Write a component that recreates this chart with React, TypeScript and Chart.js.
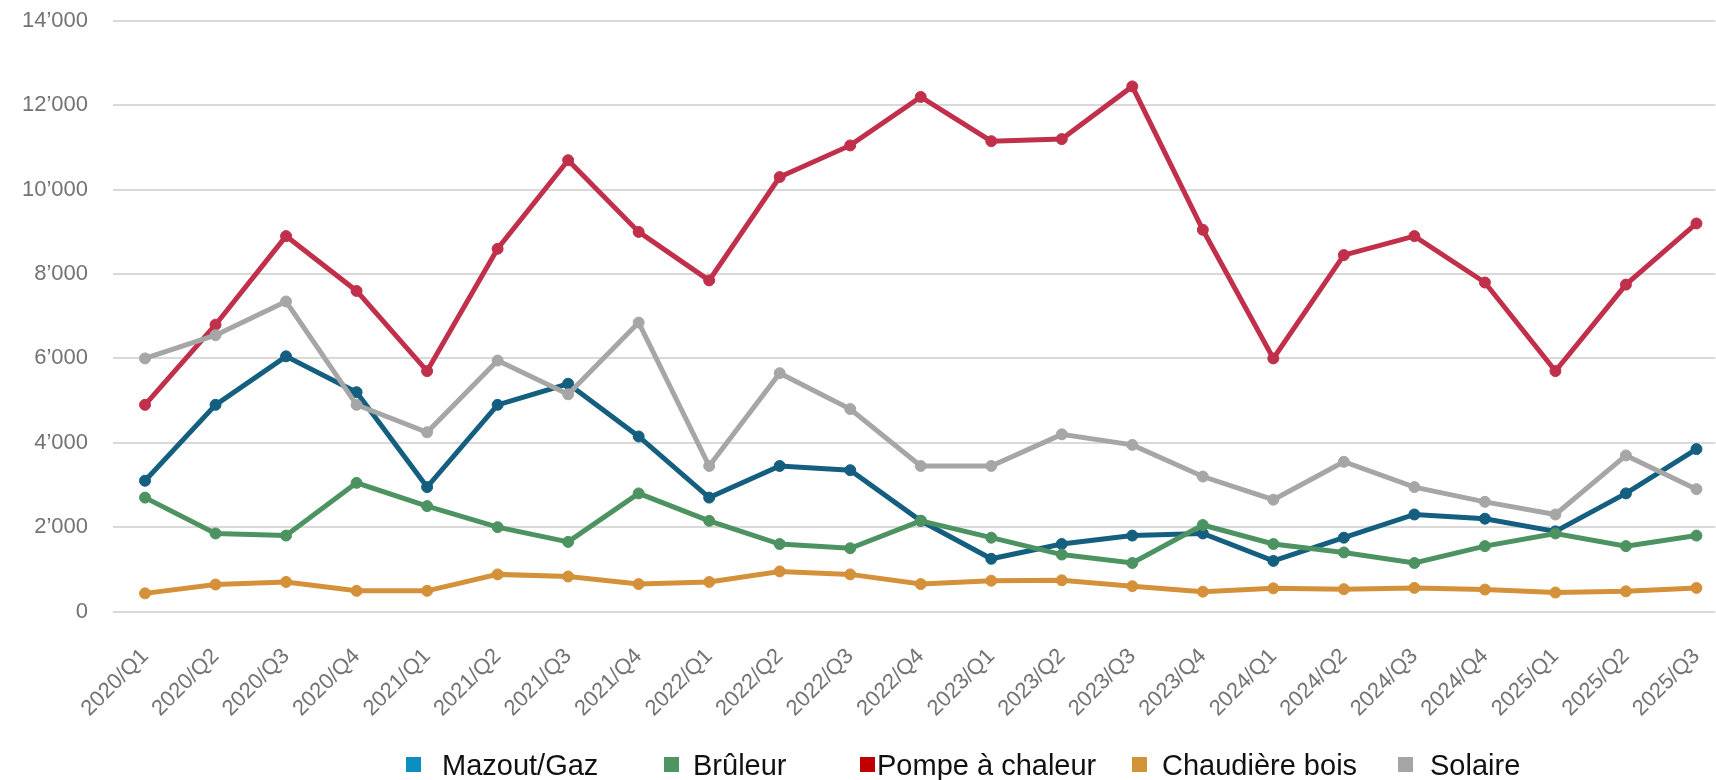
import React, { useEffect, useRef } from "react";
import { Chart, registerables } from "chart.js";

Chart.register(...registerables);

const categories = [
  "2020/Q1", "2020/Q2", "2020/Q3", "2020/Q4",
  "2021/Q1", "2021/Q2", "2021/Q3", "2021/Q4",
  "2022/Q1", "2022/Q2", "2022/Q3", "2022/Q4",
  "2023/Q1", "2023/Q2", "2023/Q3", "2023/Q4",
  "2024/Q1", "2024/Q2", "2024/Q3", "2024/Q4",
  "2025/Q1", "2025/Q2", "2025/Q3",
];

const mazout = [3100, 4900, 6050, 5200, 2950, 4900, 5400, 4150, 2700, 3450, 3350, 2150, 1250, 1600, 1800, 1850, 1200, 1750, 2300, 2200, 1900, 2800, 3850];
const bruleur = [2700, 1850, 1800, 3050, 2500, 2000, 1650, 2800, 2150, 1600, 1500, 2150, 1750, 1350, 1150, 2050, 1600, 1400, 1150, 1550, 1850, 1550, 1800];
const pompe = [4900, 6800, 8900, 7600, 5700, 8600, 10700, 9000, 7850, 10300, 11050, 12200, 11150, 11200, 12450, 9050, 6000, 8450, 8900, 7800, 5700, 7750, 9200];
const chaudiere = [430, 640, 700, 490, 490, 880, 830, 650, 700, 950, 880, 650, 730, 740, 600, 470, 550, 530, 560, 520, 450, 480, 560];
const solaire = [6000, 6550, 7350, 4900, 4250, 5950, 5150, 6850, 3450, 5650, 4800, 3450, 3450, 4200, 3950, 3200, 2650, 3550, 2950, 2600, 2300, 3700, 2900];

const seriesNames = ["Mazout/Gaz", "Brûleur", "Pompe à chaleur", "Chaudière bois", "Solaire"];
const seriesValues = [mazout, bruleur, pompe, chaudiere, solaire];
const lineColors = ["#145F7F", "#4C9361", "#C0304A", "#D4913A", "#A6A6A6"];
const legendColors = ["#0A8FC0", "#4E9562", "#C00000", "#D39237", "#A5A5A5"];
const drawOrder = [4, 3, 2, 1, 0];

const yTicks = [0, 2000, 4000, 6000, 8000, 10000, 12000, 14000];

const FONT = "'Liberation Sans', Arial, sans-serif";

const fmt = (v: number) => String(v).replace(/\B(?=(\d{3})+(?!\d))/g, "\u2019");

const legendLayout = {
  boxX: [406, 664, 860, 1132, 1398],
  textX: [442, 693, 877, 1162, 1430],
  boxY: 757,
  box: 15,
  baseline: 775,
  fontSize: 29,
};

const customLegend = {
  id: "customLegend",
  afterDraw(chart: any) {
    const ctx = chart.ctx;
    ctx.save();
    ctx.font = `${legendLayout.fontSize}px ${FONT}`;
    ctx.textAlign = "left";
    ctx.textBaseline = "alphabetic";
    chart.data.datasets.forEach((ds: any, i: number) => {
      ctx.fillStyle = ds.legendColor;
      ctx.fillRect(legendLayout.boxX[i], legendLayout.boxY, legendLayout.box, legendLayout.box);
      ctx.fillStyle = "#111111";
      ctx.fillText(ds.label, legendLayout.textX[i], legendLayout.baseline);
    });
    ctx.restore();
  },
};

export default function App() {
  const canvasRef = useRef<HTMLCanvasElement | null>(null);

  useEffect(() => {
    document.body.style.margin = "0";
    document.body.style.overflow = "hidden";
    const canvas = canvasRef.current;
    if (!canvas) return;

    const datasets = seriesNames.map((name, s) => ({
      label: name,
      legendColor: legendColors[s],
      data: seriesValues[s].map((v, i) => ({ x: i, y: v })),
      borderColor: lineColors[s],
      backgroundColor: lineColors[s],
      pointBackgroundColor: lineColors[s],
      pointBorderColor: lineColors[s],
      borderWidth: 5,
      pointRadius: 5.5,
      pointBorderWidth: 1,
      tension: 0,
      order: drawOrder[s],
    }));

    const chart = new Chart(canvas, {
      type: "line",
      data: { datasets } as any,
      plugins: [customLegend],
      options: {
        responsive: false,
        animation: false,
        devicePixelRatio: 1,
        layout: { padding: { top: 21, left: 0, right: 0, bottom: 0 } },
        plugins: {
          legend: { display: false },
          tooltip: { enabled: false },
        },
        scales: {
          x: {
            type: "linear",
            min: -0.454,
            max: 22.27,
            grid: { display: false, drawTicks: false },
            border: { display: false },
            afterBuildTicks: (scale: any) => {
              scale.ticks = categories.map((_, i) => ({ value: i }));
            },
            afterFit: (scale: any) => {
              scale.paddingLeft = 0;
              scale.paddingRight = 0;
              scale.height = 168.5;
            },
            ticks: {
              autoSkip: false,
              minRotation: 45,
              maxRotation: 45,
              padding: 32,
              color: "#737373",
              font: { family: FONT, size: 22 },
              callback: (v: any) => categories[v as number] ?? "",
            },
          },
          y: {
            min: 0,
            max: 14000,
            grid: { color: "#D9D9D9", lineWidth: 2, drawTicks: false },
            border: { display: false },
            afterBuildTicks: (scale: any) => {
              scale.ticks = yTicks.map((v) => ({ value: v }));
            },
            afterFit: (scale: any) => {
              scale.width = 113;
              scale.paddingTop = 0;
              scale.paddingBottom = 0;
            },
            ticks: {
              padding: 25,
              color: "#737373",
              font: { family: FONT, size: 22 },
              callback: (v: any) => fmt(Number(v)),
            },
          },
        },
      } as any,
    });

    return () => chart.destroy();
  }, []);

  return (
    <div style={{ width: 1716, height: 780, background: "#ffffff", overflow: "hidden" }}>
      <canvas ref={canvasRef} width={1722} height={780} style={{ display: "block" }} />
    </div>
  );
}
